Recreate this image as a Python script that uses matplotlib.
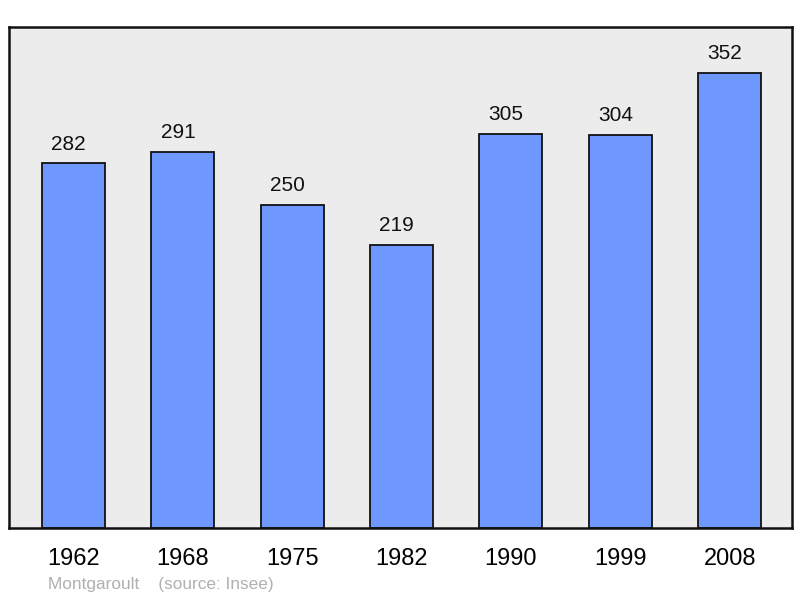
import matplotlib.pyplot as plt

years = ['1962', '1968', '1975', '1982', '1990', '1999', '2008']
population = [282, 291, 250, 219, 305, 304, 352]

plt.rcParams['font.family'] = ['Liberation Sans', 'DejaVu Sans']

fig = plt.figure(figsize=(8, 5.98), dpi=100)
ax = fig.add_axes([9 / 800, 70 / 598, 783 / 800, 501 / 598])
ax.set_facecolor('#ececec')

x = range(len(years))
bars = ax.bar(x, population, width=0.576, color='#6f98ff',
              edgecolor='#111111', linewidth=1.3)
for b, v in zip(bars, population):
    ax.annotate(str(v), (b.get_x() + b.get_width() / 2, v),
                xytext=(-3.6, 10), textcoords='offset points',
                ha='center', va='baseline', fontsize=15, color='#111111')

ax.set_xlim(-0.59, 6.57)
ax.set_ylim(0, 387.6)
ax.set_xticks(list(x))
ax.set_xticklabels(years)
ax.tick_params(axis='x', length=0, pad=14.5, labelsize=17)
ax.set_yticks([])
for s in ax.spines.values():
    s.set_linewidth(1.8)
    s.set_color('#111111')

fig.text(48 / 800, 13 / 598, 'Montgaroult    (source: Insee)',
         fontsize=12.4, color='#b0b0b0', va='center', ha='left')

fig.savefig('out.png', dpi=100)
